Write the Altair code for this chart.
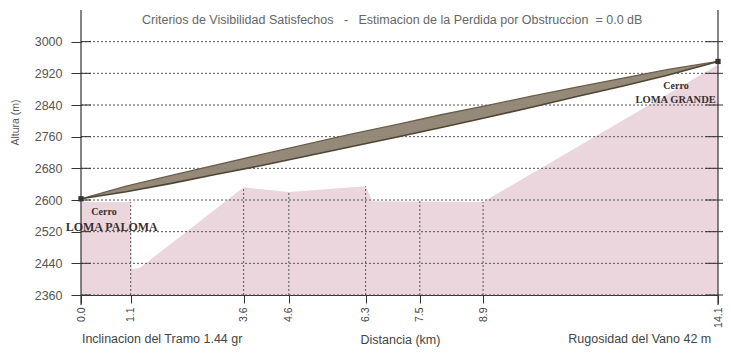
import altair as alt
import pandas as pd

# ---------------- data ----------------
terrain_km = [0.0, 1.1, 1.12, 1.3, 3.6, 4.6, 6.3, 6.45, 8.9, 14.1]
terrain_m = [2595, 2595, 2425, 2428, 2632, 2620, 2635, 2597, 2595, 2942]

band_km = [0.0, 1, 2, 3, 4, 5, 6, 7, 8, 9, 10, 11, 12, 13, 14.1]
band_lo = [2603, 2621, 2642, 2665, 2687, 2711, 2735, 2759, 2784, 2809, 2835, 2862, 2888, 2916, 2950]
band_hi = [2603, 2635, 2662, 2689, 2715, 2741, 2767, 2791, 2816, 2839, 2863, 2886, 2908, 2930, 2950]

site_km = [0.0, 14.1]
site_m = [2603, 2950]

x_ticks = [0.0, 1.1, 3.6, 4.6, 6.3, 7.5, 8.9, 14.1]
y_ticks = [2360, 2440, 2520, 2600, 2680, 2760, 2840, 2920, 3000]

vline_km = [1.1, 3.6, 4.6, 6.3, 7.5, 8.9]
vline_top = [2595, 2632, 2620, 2635, 2597, 2595]

NB = "\u00a0"
title_text = ("Criterios de Visibilidad Satisfechos" + NB * 3 + "-" + NB * 3 +
              "Estimacion de la Perdida por Obstruccion" + NB * 2 + "= 0.0 dB")
left_note = "Inclinacion del Tramo 1.44 gr"
right_note = "Rugosidad del Vano 42 m"

FONT = "Liberation Sans"
SERIF = "Liberation Serif"

xs = alt.Scale(domain=[0, 14.1], nice=False, zero=False)
ys = alt.Scale(domain=[2360, 3080], nice=False, zero=False)

xaxis = alt.Axis(values=x_ticks, format=".1f", labelAngle=270, labelFontSize=10.5,
                 labelColor="#444", labelFont=FONT, tickSize=8, tickColor="#333",
                 domainColor="#333", grid=False, labelPadding=4,
                 title="Distancia (km)", titleX=319, titleY=44, titleFont=FONT,
                 titleFontSize=12.5, titleFontWeight="normal", titleColor="#444",
                 titleBaseline="middle", titleAlign="center")
yaxis = alt.Axis(values=y_ticks, format="d", labelFontSize=12.5, labelColor="#555",
                 labelFont=FONT, tickSize=10, tickColor="#333", labelPadding=9,
                 domain=False, grid=False,
                 title="Altura (m)", titleX=-66, titleY=112, titleAngle=270,
                 titleFont=FONT, titleFontSize=10.5, titleFontWeight="normal",
                 titleColor="#555", titleAlign="center", titleBaseline="middle")


def X(f):
    return alt.X(f, type="quantitative", scale=xs, axis=xaxis)


def Y(f):
    return alt.Y(f, type="quantitative", scale=ys, axis=yaxis, stack=None)


n_t = len(terrain_km)
terrain_df = pd.DataFrame({"km": terrain_km, "m": terrain_m, "base": [2360] * n_t})
band_df = pd.DataFrame({"km": band_km, "lo": band_lo, "hi": band_hi})
site_df = pd.DataFrame({"km": site_km, "m": site_m})
n_y = len(y_ticks)
grid_df = pd.DataFrame({"m": y_ticks, "a": [0.0] * n_y, "b": [14.1] * n_y})
tickl_df = pd.DataFrame({"m": y_ticks, "a": [0.0] * n_y, "b": [0.22] * n_y})
tickr_df = pd.DataFrame({"m": y_ticks, "a": [13.82] * n_y, "b": [14.32] * n_y})
vl_df = pd.DataFrame({"km": vline_km, "lo": [2360] * len(vline_km), "hi": vline_top})
edge_df = pd.DataFrame({"km": [0.0, 14.1], "lo": [2335, 2335], "hi": [3080, 3080]})

terrain = alt.Chart(terrain_df).mark_area(color="#ead6dc", opacity=1, interpolate="linear").encode(
    x=X("km"), y=Y("m"), y2=alt.Y2("base"))

grid = alt.Chart(grid_df).mark_rule(color="#555", strokeDash=[2, 2], strokeWidth=1).encode(
    x=X("a"), x2="b", y=Y("m"))

vlines = alt.Chart(vl_df).mark_rule(color="#555", strokeDash=[2, 2], strokeWidth=1).encode(
    x=X("km"), y=Y("lo"), y2="hi")

tick_l = alt.Chart(tickl_df).mark_rule(color="#333", strokeWidth=1).encode(
    x=X("a"), x2="b", y=Y("m"))
tick_r = alt.Chart(tickr_df).mark_rule(color="#333", strokeWidth=1).encode(
    x=X("a"), x2="b", y=Y("m"))

edges = alt.Chart(edge_df).mark_rule(color="#333", strokeWidth=1.2).encode(
    x=X("km"), y=Y("lo"), y2="hi")

band = alt.Chart(band_df).mark_area(color="#8f8472", opacity=0.95).encode(
    x=X("km"), y=Y("lo"), y2="hi")
band_top = alt.Chart(band_df).mark_line(color="#6a5e4a", strokeWidth=1.3).encode(
    x=X("km"), y=Y("hi"))
band_bot = alt.Chart(band_df).mark_line(color="#4f4533", strokeWidth=1.6).encode(
    x=X("km"), y=Y("lo"))

sites = alt.Chart(site_df).mark_square(color="#333", size=28, opacity=1).encode(
    x=X("km"), y=Y("m"))

ann_df = pd.DataFrame({
    "km": [0.51, 0.68, 13.17],
    "m": [2570, 2532, 2888],
    "t": ["Cerro", "LOMA PALOMA", "Cerro"],
    "s": [10, 12, 10],
})
ann_c = alt.Chart(ann_df).mark_text(font=SERIF, fontWeight="bold", color="#3a3030",
                                    baseline="middle", align="center").encode(
    x=X("km"), y=Y("m"), text="t", size=alt.Size("s:Q", scale=None, legend=None))
ann_r_df = pd.DataFrame({"km": [14.05], "m": [2853], "t": ["LOMA GRANDE"]})
ann_r = alt.Chart(ann_r_df).mark_text(font=SERIF, fontWeight="bold", color="#3a3030",
                                      baseline="middle", align="right", fontSize=10.5).encode(
    x=X("km"), y=Y("m"), text="t")

title_df = pd.DataFrame({"km": [1.35], "m": [3055], "t": [title_text]})
title = alt.Chart(title_df).mark_text(font=FONT, fontSize=12.5, color="#666", align="left",
                                      baseline="middle").encode(x=X("km"), y=Y("m"), text="t")

notes_df = pd.DataFrame({"km": [0.02], "m": [2249], "t": [left_note]})
note_l = alt.Chart(notes_df).mark_text(font=FONT, fontSize=12.5, color="#444", align="left",
                                       baseline="middle").encode(x=X("km"), y=Y("m"), text="t")
notes_r_df = pd.DataFrame({"km": [13.95], "m": [2249], "t": [right_note]})
note_r = alt.Chart(notes_r_df).mark_text(font=FONT, fontSize=12.5, color="#444", align="right",
                                         baseline="middle").encode(x=X("km"), y=Y("m"), text="t")

chart = alt.layer(
    terrain, grid, vlines, band, band_top, band_bot, tick_l, tick_r, edges, sites,
    ann_c, ann_r, title, note_l, note_r
).properties(
    width=637, height=285,
    autosize=alt.AutoSizeParams(type="none"),
    padding={"left": 73, "top": 2, "right": 5, "bottom": 53},
    background="white",
).configure_view(stroke=None)

chart.save("out.html", embed_options={"renderer": "svg", "actions": False})
